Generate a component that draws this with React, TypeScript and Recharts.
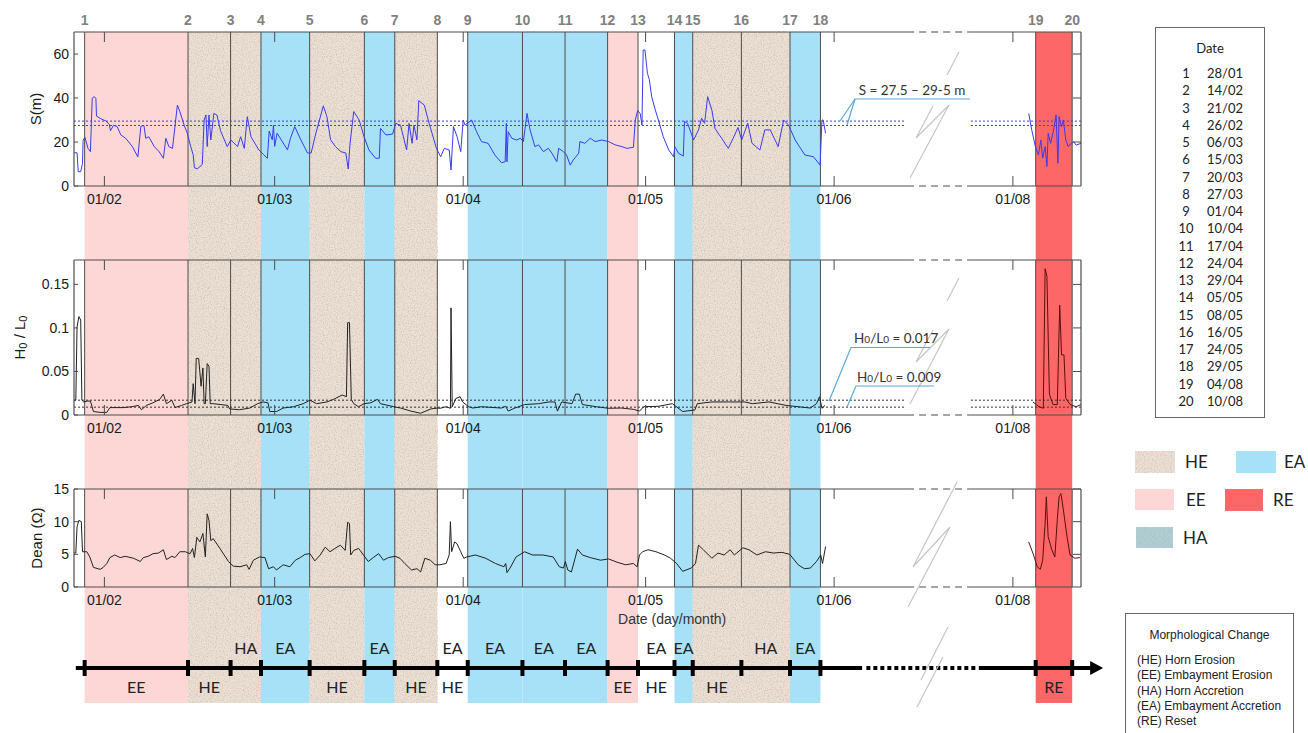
import React from "react";
import {
  ComposedChart,
  LineChart,
  Line,
  XAxis,
  YAxis,
  Label,
  ReferenceArea,
  ReferenceLine,
  ReferenceDot,
  Scatter,
} from "recharts";

// ---------- time axis (day of year, with a break between June and August) ----------
const CUM_DAYS = [0, 31, 59, 90, 120, 151, 181, 212];
const BREAK_SHIFT = 31.6; // days hidden by the axis break
const EVENT_HOUR = 0.75;
const X_DOMAIN: [number, number] = [27, 192.6];
const GAP: [number, number] = [164, 174.4];
const DOTS: [number, number] = [163.6, 174.5];

const doy = (ddmm: string) => {
  const [d, m] = ddmm.split("/").map(Number);
  return CUM_DAYS[m - 1] + d;
};
const toAxis = (day: number) => (day > 180 ? day - BREAK_SHIFT : day);

const EVENT_DATES = [
  "28/01", "14/02", "21/02", "26/02", "06/03", "15/03", "20/03", "27/03", "01/04", "10/04",
  "17/04", "24/04", "29/04", "05/05", "08/05", "16/05", "24/05", "29/05", "04/08", "10/08",
];
const MONTH_LABELS = ["01/02", "01/03", "01/04", "01/05", "01/06", "01/08"];

const EVENTS = EVENT_DATES.map((s) => toAxis(doy(s) + EVENT_HOUR));
const MONTH_TICKS = MONTH_LABELS.map((s) => toAxis(doy(s)));

type Band = "EE" | "HE" | "EA" | "RE" | "";
const PHASES: { from: number; to: number; above: string; below: string; band: Band }[] = [
  { from: 1, to: 2, above: "", below: "EE", band: "EE" },
  { from: 2, to: 3, above: "", below: "HE", band: "HE" },
  { from: 3, to: 4, above: "HA", below: "", band: "HE" },
  { from: 4, to: 5, above: "EA", below: "", band: "EA" },
  { from: 5, to: 6, above: "", below: "HE", band: "HE" },
  { from: 6, to: 7, above: "EA", below: "", band: "EA" },
  { from: 7, to: 8, above: "", below: "HE", band: "HE" },
  { from: 8, to: 9, above: "EA", below: "HE", band: "" },
  { from: 9, to: 10, above: "EA", below: "", band: "EA" },
  { from: 10, to: 11, above: "EA", below: "", band: "EA" },
  { from: 11, to: 12, above: "EA", below: "", band: "EA" },
  { from: 12, to: 13, above: "", below: "EE", band: "EE" },
  { from: 13, to: 14, above: "EA", below: "HE", band: "" },
  { from: 14, to: 15, above: "EA", below: "", band: "EA" },
  { from: 15, to: 16, above: "", below: "HE", band: "HE" },
  { from: 16, to: 17, above: "HA", below: "", band: "HE" },
  { from: 17, to: 18, above: "EA", below: "", band: "EA" },
  { from: 19, to: 20, above: "", below: "RE", band: "RE" },
];

// ---------- measured series: [day of year, value] ----------
const S_SPRING: [number, number][] = [
  [27.0, 15.1], [27.5, 15.1], [27.7, 6.5], [28.1, 6.5], [28.4, 10.3], [28.5, 20.9], [28.8, 22.1],
  [29.3, 17.1], [29.7, 15.6], [30.0, 39.9], [30.3, 40.6], [30.6, 39.9], [30.7, 31.8], [31.4, 30.6],
  [32.2, 29.6], [32.8, 28.1], [33.0, 25.1], [33.5, 27.6], [34.1, 27.0], [34.7, 23.2], [35.5, 21.7],
  [36.6, 17.9], [37.5, 13.2], [38.0, 27.2], [38.5, 27.5], [38.8, 21.7], [39.3, 22.4], [40.2, 17.9],
  [41.0, 15.6], [41.7, 12.6], [42.1, 21.7], [42.6, 17.9], [43.2, 17.1], [44.0, 36.8], [44.4, 33.9],
  [45.1, 27.8], [45.6, 24.2], [46.2, 17.9], [46.6, 14.2], [46.8, 8.3], [47.3, 7.8], [48.1, 9.8],
  [48.4, 30.0], [48.7, 32.3], [48.9, 17.9], [49.2, 32.3], [49.5, 20.9], [50.0, 33.0], [50.5, 32.3],
  [51.1, 25.1], [52.2, 17.9], [52.8, 20.9], [53.9, 17.9], [54.4, 22.4], [55.0, 17.1], [55.5, 31.5],
  [56.1, 22.4], [57.4, 16.4], [58.2, 14.2], [58.8, 12.6], [59.1, 25.0], [59.6, 21.0], [59.8, 27.6],
  [60.0, 18.0], [60.4, 24.0], [61.3, 20.0], [62.1, 16.4], [62.6, 21.7], [63.3, 27.0], [64.3, 21.0],
  [65.4, 15.0], [66.0, 15.0], [66.7, 23.2], [68.0, 36.4], [68.6, 31.5], [69.2, 21.0], [70.0, 17.9],
  [70.9, 15.6], [71.7, 15.0], [72.1, 7.7], [72.4, 19.4], [73.0, 33.8], [73.9, 30.0], [74.7, 22.4],
  [75.5, 16.4], [76.6, 12.6], [77.2, 12.6], [77.4, 26.2], [78.3, 23.2], [79.4, 23.6], [79.9, 28.5],
  [80.7, 27.6], [81.7, 16.4], [82.1, 28.5], [82.6, 19.4], [82.9, 27.6], [83.4, 21.0], [83.7, 38.8],
  [84.6, 36.8], [85.4, 28.5], [86.6, 17.1], [87.3, 13.3], [87.9, 17.1], [88.7, 16.4], [89.0, 7.3],
  [89.4, 27.0], [90.0, 22.4], [90.6, 15.6], [91.0, 30.0], [91.3, 27.7], [92.4, 30.0], [93.2, 24.7],
  [94.0, 20.2], [95.1, 19.4], [96.2, 14.1], [97.3, 10.6], [97.9, 11.0], [98.1, 28.5], [98.2, 11.0],
  [98.4, 24.7], [99.0, 21.7], [99.8, 20.9], [100.4, 21.7], [100.9, 20.2], [101.5, 33.0], [102.0, 25.5],
  [102.8, 17.9], [103.4, 18.7], [104.2, 15.6], [105.0, 17.1], [105.6, 14.9], [106.4, 11.0], [106.7, 17.1],
  [107.5, 15.6], [108.0, 14.1], [108.6, 9.5], [109.1, 11.8], [110.0, 14.9], [110.2, 20.2], [111.0, 19.4],
  [111.9, 21.7], [112.7, 20.2], [113.8, 20.9], [114.9, 20.2], [116.0, 18.7], [117.1, 17.9], [117.9, 17.1],
  [119.0, 17.6], [119.3, 30.0], [119.7, 34.3], [120.1, 33.0], [120.4, 27.7], [120.6, 61.8], [120.9, 61.8],
  [121.3, 51.2], [121.6, 48.5], [122.0, 40.6], [122.6, 34.5], [123.1, 30.0], [123.9, 22.4], [124.8, 16.4],
  [125.6, 13.3], [125.8, 17.9], [126.4, 14.9], [127.2, 13.6], [127.4, 29.3], [127.9, 28.5], [128.9, 20.9],
  [129.7, 25.5], [130.2, 30.8], [130.7, 28.5], [131.2, 40.6], [131.9, 34.5], [132.4, 26.2], [133.5, 21.7],
  [134.6, 17.1], [135.4, 21.7], [136.2, 26.6], [136.8, 20.9], [137.8, 28.5], [138.5, 19.4], [139.8, 16.4],
  [140.6, 25.5], [141.5, 25.5], [142.8, 17.9], [143.7, 30.0], [144.5, 27.7], [145.6, 20.9], [146.1, 18.7],
  [147.2, 14.1], [148.6, 13.3], [149.7, 9.5], [150.0, 30.0], [150.2, 30.0], [150.6, 24.0],
];
const S_AUGUST: [number, number][] = [
  [215.6, 33.0], [216.1, 25.5], [216.7, 17.9], [217.2, 14.1], [217.6, 20.9], [217.9, 12.7],
  [218.3, 17.9], [218.6, 8.8], [218.8, 24.0], [219.2, 19.4], [219.7, 25.5], [220.1, 32.3],
  [220.4, 10.3], [220.6, 31.5], [221.0, 27.0], [221.3, 30.0], [221.7, 20.9], [222.1, 17.9],
  [222.6, 19.4], [223.0, 20.1], [223.4, 18.6], [224.2, 19.4],
];

const H_SPRING: [number, number][] = [
  [27.0, 0.017], [27.3, 0.017], [27.5, 0.101], [27.8, 0.113], [28.1, 0.109], [28.3, 0.017],
  [28.6, 0.015], [29.2, 0.016], [29.7, 0.016], [30.2, 0.004], [31.3, 0.003], [32.4, 0.003],
  [32.9, 0.0085], [35.1, 0.0085], [36.5, 0.0095], [37.6, 0.011], [38.1, 0.006], [38.9, 0.011],
  [40.0, 0.014], [41.1, 0.018], [41.7, 0.024], [42.2, 0.013], [43.1, 0.017], [43.6, 0.0085],
  [44.7, 0.011], [45.5, 0.013], [46.4, 0.015], [46.6, 0.036], [46.9, 0.013], [47.1, 0.065],
  [47.5, 0.065], [47.9, 0.033], [48.2, 0.054], [48.4, 0.013], [48.6, 0.013], [48.9, 0.059],
  [49.2, 0.056], [49.4, 0.013], [49.9, 0.013], [52.3, 0.011], [52.6, 0.007], [54.2, 0.006],
  [55.9, 0.008], [57.2, 0.013], [58.1, 0.015], [58.9, 0.014], [59.2, 0.004], [60.3, 0.004],
  [61.4, 0.008], [63.1, 0.0095], [64.7, 0.013], [65.8, 0.017], [66.9, 0.013], [68.6, 0.015],
  [69.7, 0.018], [71.1, 0.023], [71.8, 0.021], [72.0, 0.106], [72.3, 0.106], [72.6, 0.018],
  [73.0, 0.013], [73.8, 0.0095], [74.7, 0.013], [75.8, 0.014], [76.9, 0.018], [77.4, 0.013],
  [79.6, 0.0095], [80.7, 0.008], [82.4, 0.0045], [84.0, 0.002], [85.7, 0.007], [86.8, 0.008],
  [87.2, 0.0077], [88.2, 0.0095], [88.9, 0.0077], [89.0, 0.123], [89.2, 0.0095], [89.8, 0.019],
  [90.5, 0.021], [90.9, 0.015], [91.9, 0.0095], [92.6, 0.008], [94.0, 0.0095], [97.3, 0.008],
  [98.0, 0.01], [98.4, 0.0045], [99.4, 0.0077], [101.1, 0.012], [103.4, 0.013], [105.1, 0.015],
  [106.1, 0.015], [106.5, 0.0045], [107.2, 0.015], [108.9, 0.013], [109.5, 0.024], [110.1, 0.024],
  [110.6, 0.012], [112.9, 0.0095], [114.9, 0.0077], [117.0, 0.008], [119.0, 0.0065], [120.0, 0.0045],
  [120.7, 0.0095], [123.1, 0.01], [125.4, 0.013], [127.1, 0.004], [129.1, 0.0058], [129.5, 0.013],
  [131.9, 0.015], [134.6, 0.015], [137.3, 0.015], [138.6, 0.013], [141.3, 0.015], [144.1, 0.011],
  [146.1, 0.0095], [148.1, 0.008], [149.1, 0.013], [149.6, 0.021], [150.0, 0.0077], [150.5, 0.011],
];
const H_AUGUST: [number, number][] = [
  [216.3, 0.015], [217.3, 0.0095], [218.0, 0.0077], [218.3, 0.168], [218.6, 0.159], [219.0, 0.024],
  [219.6, 0.012], [220.3, 0.012], [220.7, 0.126], [221.0, 0.069], [221.4, 0.069], [221.7, 0.019],
  [222.4, 0.012], [223.4, 0.0095], [224.2, 0.012],
];

const DEAN_SPRING: [number, number][] = [
  [27.0, 5.2], [27.3, 5.2], [27.5, 9.2], [27.8, 10.2], [28.2, 10.0], [28.4, 5.4], [29.1, 5.4],
  [29.6, 4.6], [30.2, 3.0], [31.3, 2.7], [31.8, 3.0], [32.4, 3.6], [32.9, 4.5], [33.7, 4.9],
  [34.6, 4.5], [35.4, 4.7], [36.8, 4.4], [37.9, 3.9], [38.4, 4.5], [39.2, 4.7], [40.0, 5.1],
  [40.9, 5.2], [41.7, 5.7], [42.2, 4.2], [43.1, 4.7], [43.6, 4.5], [44.4, 5.4], [45.3, 5.4],
  [46.1, 5.1], [46.5, 5.9], [46.8, 4.5], [47.2, 7.6], [47.7, 6.9], [48.2, 8.2], [48.6, 4.6],
  [48.9, 11.2], [49.2, 10.2], [49.5, 7.1], [49.9, 7.4], [51.0, 5.9], [52.4, 3.9], [53.2, 3.2],
  [54.3, 3.1], [55.4, 3.4], [55.8, 2.7], [56.5, 4.1], [57.5, 4.6], [58.4, 4.5], [59.0, 2.8],
  [59.8, 3.1], [60.3, 2.6], [61.4, 3.4], [62.5, 3.1], [63.4, 4.1], [64.2, 4.5], [65.0, 5.0],
  [65.8, 5.1], [66.6, 4.0], [67.5, 4.9], [68.3, 6.1], [69.1, 5.4], [69.9, 5.9], [70.8, 6.4],
  [71.6, 5.6], [72.0, 9.9], [72.3, 9.7], [72.5, 4.9], [73.0, 5.6], [73.8, 5.9], [74.6, 4.9],
  [75.4, 3.9], [76.2, 4.5], [77.1, 5.1], [77.9, 4.1], [78.7, 4.5], [79.8, 4.7], [80.6, 4.4],
  [81.4, 3.6], [82.5, 2.6], [83.4, 2.8], [84.0, 2.3], [84.7, 4.4], [85.6, 4.1], [86.4, 3.4],
  [87.2, 3.4], [88.2, 3.6], [88.7, 4.9], [88.9, 10.0], [89.1, 5.4], [89.6, 6.9], [90.0, 6.6],
  [90.6, 5.4], [91.1, 4.4], [91.6, 4.6], [93.0, 4.9], [94.7, 4.4], [96.3, 3.6], [97.7, 3.1],
  [98.0, 3.6], [98.2, 2.2], [98.7, 2.9], [99.7, 4.6], [101.1, 5.4], [102.4, 4.9], [104.1, 4.9],
  [105.8, 4.6], [106.8, 3.1], [107.5, 2.9], [107.8, 3.9], [108.2, 2.6], [108.8, 2.3], [109.4, 4.4],
  [109.8, 5.8], [110.6, 4.9], [111.9, 4.5], [113.6, 4.1], [114.9, 4.3], [116.3, 3.8], [117.7, 3.4],
  [119.0, 3.6], [119.6, 3.1], [120.0, 4.9], [120.5, 5.4], [121.4, 5.7], [122.7, 5.4], [124.1, 4.9],
  [125.1, 4.4], [126.1, 3.6], [127.1, 2.4], [128.5, 2.9], [129.2, 3.6], [129.7, 6.4], [130.5, 5.7],
  [131.9, 4.4], [132.9, 5.2], [133.9, 4.9], [134.9, 5.7], [135.6, 4.9], [137.0, 6.0], [138.0, 5.7],
  [139.3, 4.9], [140.7, 5.4], [142.0, 5.2], [143.4, 5.3], [144.7, 5.0], [146.1, 3.4], [147.1, 2.8],
  [148.1, 2.9], [149.1, 3.9], [149.8, 4.9], [150.1, 3.6], [150.6, 6.2],
];
const DEAN_AUGUST: [number, number][] = [
  [215.6, 6.9], [216.4, 4.9], [217.0, 3.1], [217.5, 2.7], [217.9, 4.1], [218.3, 9.8], [218.5, 13.8],
  [218.8, 7.7], [219.4, 5.7], [219.9, 4.6], [220.3, 10.3], [220.6, 13.8], [220.9, 14.3], [221.3, 11.8],
  [221.9, 7.7], [222.4, 4.9], [223.2, 4.4], [224.0, 4.5],
];

const S_THRESHOLDS = [27.5, 29.5];
const H_THRESHOLDS = [0.009, 0.017];

// ---------- styling ----------
const AXIS_FONT = '"Liberation Sans", Arial, sans-serif';
const TEXT_FONT = 'Lato, "Open Sans", sans-serif';
const FRAME = "#4d4d4d";
const BAND_FILL: Record<string, string> = { EE: "#fdd6d6", HE: "#ede1d6", EA: "#a6e1f8", RE: "#fe6767" };
const PANEL_TOPS = [32, 260, 489];

const toPoints = (pairs: [number, number][]) => pairs.map(([d, v]) => ({ t: toAxis(d), v }));

const W = 1308;
const PLOT_MARGIN = { left: 14, right: 217 };

function heShape(p: any) {
  return (
    <g>
      <rect x={p.x} y={p.y} width={p.width} height={p.height} fill={BAND_FILL.HE} />
      <rect x={p.x} y={p.y} width={p.width} height={p.height} filter="url(#speckle-he)" />
    </g>
  );
}

function yTitle(dx: number, content: React.ReactNode) {
  return (props: any) => {
    const vb = props.viewBox || { x: 14, y: 0, height: 0 };
    const cx = vb.x + dx;
    const cy = vb.y + vb.height / 2;
    return (
      <text x={cx} y={cy} transform={`rotate(-90 ${cx} ${cy})`} textAnchor="middle" dominantBaseline="central"
        fontSize={15} fill="#1a1a1a" fontFamily={AXIS_FONT}>
        {content}
      </text>
    );
  };
}

function axes(id: string, yDomain: [number, number], yTicks: number[], rTicks: number[], bottomH: number,
  title: any, xTitle?: any) {
  return [
    <XAxis key={`${id}-xb`} type="number" dataKey="t" domain={X_DOMAIN} allowDataOverflow ticks={MONTH_TICKS}
      interval={0} tickFormatter={(_v: number, i: number) => MONTH_LABELS[i]} height={bottomH} axisLine={false}
      tickSize={-10} tickMargin={18} tickLine={{ stroke: FRAME }}
      tick={{ fontSize: 14, fill: "#1a1a1a", fontFamily: AXIS_FONT }}>
      {xTitle}
    </XAxis>,
    <YAxis key={`${id}-yl`} type="number" domain={yDomain} allowDataOverflow ticks={yTicks} interval={0} width={60}
      tickSize={-4} tickMargin={9} axisLine={{ stroke: FRAME, strokeWidth: 1.2 }} tickLine={{ stroke: FRAME }}
      tick={{ fontSize: 14, fill: "#1a1a1a", fontFamily: AXIS_FONT }}>
      <Label content={title} />
    </YAxis>,
    <YAxis key={`${id}-yr`} yAxisId="r" orientation="right" type="number" domain={yDomain} allowDataOverflow
      ticks={rTicks} interval={0} width={10} tickSize={-8} tickFormatter={() => ""}
      axisLine={{ stroke: FRAME, strokeWidth: 1.2 }} tickLine={{ stroke: FRAME }} />,
  ];
}

function frame(id: string, yMax: number) {
  const parts: [number, number, boolean][] = [
    [X_DOMAIN[0], GAP[0], false],
    [GAP[0], GAP[1], true],
    [GAP[1], X_DOMAIN[1], false],
  ];
  return [
    ...EVENTS.map((x, i) => <ReferenceLine key={`${id}-ev${i}`} x={x} stroke={FRAME} ifOverflow="visible" />),
    ...[0, yMax].flatMap((y) =>
      parts.map(([a, b, dashed], i) => (
        <ReferenceLine key={`${id}-fr${y}-${i}`} segment={[{ x: a, y }, { x: b, y }]} stroke={FRAME}
          strokeWidth={1.2} strokeDasharray={dashed ? "7 5" : undefined} ifOverflow="visible" />
      ))
    ),
  ];
}

function thresholds(id: string, values: number[], color: string) {
  return values.flatMap((v) =>
    [[X_DOMAIN[0], DOTS[0]], [DOTS[1], X_DOMAIN[1]]].map(([a, b], i) => (
      <ReferenceLine key={`${id}-th${v}-${i}`} segment={[{ x: a, y: v }, { x: b, y: v }]} stroke={color}
        strokeDasharray="2 2" ifOverflow="visible" />
    ))
  );
}

const LABEL_POINTS = PHASES.flatMap((p) => {
  const mid = (EVENTS[p.from - 1] + EVENTS[p.to - 1]) / 2;
  const out: { x: number; y: number; text: string }[] = [];
  if (p.above) out.push({ x: mid, y: 654, text: p.above });
  if (p.below) out.push({ x: mid, y: 693, text: p.below });
  return out;
});

const EVENT_NUMBERS = EVENTS.map((x, i) => ({ x, y: 25, text: String(i + 1) }));

const labelShape = (p: any) => (
  <text x={p.cx} y={p.cy} textAnchor="middle" fontSize={16} fill="#222" fontFamily={TEXT_FONT}>
    {p.payload.text}
  </text>
);

const numberShape = (p: any) => (
  <text x={p.cx} y={p.cy} textAnchor="middle" fontSize={14} fontWeight={700} fill="#808080" fontFamily={AXIS_FONT}>
    {p.payload.text}
  </text>
);

const arrowHead = (p: any) => (
  <polygon points={`${p.cx},${p.cy - 7} ${p.cx + 13},${p.cy} ${p.cx},${p.cy + 7}`} fill="#000" />
);

const BREAK_MARKS = [
  "959,52 947,75",
  "933,106 916,138 949,105 910,178",
  "959,278 947,301",
  "933,330 916,362 949,329 910,404",
  "957,482 913,567 950,527 908,607",
  "948,627 921,680",
  "943,657 917,707",
];

const LEGEND = [
  { key: "HE", x: 1135, y: 451, w: 40, h: 22, tx: 1185, fill: BAND_FILL.HE, filter: "speckle-he" },
  { key: "EA", x: 1236, y: 451, w: 40, h: 22, tx: 1284, fill: BAND_FILL.EA, filter: "" },
  { key: "EE", x: 1135, y: 489, w: 39, h: 21, tx: 1186, fill: BAND_FILL.EE, filter: "" },
  { key: "RE", x: 1225, y: 489, w: 38, h: 22, tx: 1273, fill: BAND_FILL.RE, filter: "" },
  { key: "HA", x: 1136, y: 527, w: 37, h: 21, tx: 1183, fill: "#b2cfd3", filter: "speckle-ha" },
];

const MORPH_LINES = [
  "(HE) Horn Erosion",
  "(EE) Embayment Erosion",
  "(HA) Horn Accretion",
  "(EA) Embayment Accretion",
  "(RE) Reset",
];

const abs = (left: number, top: number): React.CSSProperties => ({ position: "absolute", left, top });

export default function App() {
  return (
    <div style={{ position: "absolute", left: 0, top: 0, width: W, height: 733, overflow: "hidden", background: "#fff" }}>
      <svg width={0} height={0} style={{ position: "absolute" }}>
        <defs>
          <filter id="speckle-he" x="0" y="0" width="1" height="1">
            <feTurbulence type="fractalNoise" baseFrequency="0.85" numOctaves="2" seed="4" />
            <feColorMatrix type="matrix" values="0 0 0 0 0.6  0 0 0 0 0.49  0 0 0 0 0.41  1.8 0 0 0 -0.75" />
          </filter>
          <filter id="speckle-ha" x="0" y="0" width="1" height="1">
            <feTurbulence type="fractalNoise" baseFrequency="0.85" numOctaves="2" seed="7" />
            <feColorMatrix type="matrix" values="0 0 0 0 0.35  0 0 0 0 0.5  0 0 0 0 0.53  1.8 0 0 0 -0.75" />
          </filter>
        </defs>
      </svg>

      {/* phase bands, event numbers and the time line underneath */}
      <div style={abs(0, 0)}>
        <ComposedChart width={W} height={733} margin={{ top: 0, right: 227, bottom: 0, left: 74 }}>
          <XAxis hide type="number" dataKey="x" domain={X_DOMAIN} allowDataOverflow />
          <YAxis hide type="number" dataKey="y" domain={[0, 733]} reversed allowDataOverflow />
          {PHASES.filter((p) => p.band).map((p, i) => (
            <ReferenceArea key={`band${i}`} x1={EVENTS[p.from - 1]} x2={EVENTS[p.to - 1]} y1={32} y2={703}
              fill={BAND_FILL[p.band]} fillOpacity={1} stroke="none" ifOverflow="visible"
              shape={p.band === "HE" ? heShape : undefined} />
          ))}
          {PANEL_TOPS.flatMap((top) =>
            MONTH_TICKS.map((x, i) => (
              <ReferenceLine key={`mt${top}-${i}`} segment={[{ x, y: top }, { x, y: top + 10 }]} stroke={FRAME}
                ifOverflow="visible" />
            ))
          )}
          <ReferenceLine segment={[{ x: 27.3, y: 668 }, { x: 156.6, y: 668 }]} stroke="#000" strokeWidth={4} ifOverflow="visible" />
          <ReferenceLine segment={[{ x: 157.3, y: 668 }, { x: 175.7, y: 668 }]} stroke="#000" strokeWidth={4}
            strokeDasharray="4 3" ifOverflow="visible" />
          <ReferenceLine segment={[{ x: 175.8, y: 668 }, { x: 194.2, y: 668 }]} stroke="#000" strokeWidth={4} ifOverflow="visible" />
          {EVENTS.map((x, i) => (
            <ReferenceLine key={`tl${i}`} segment={[{ x, y: 660 }, { x, y: 676 }]} stroke="#000" strokeWidth={4} ifOverflow="visible" />
          ))}
          <ReferenceDot x={194.1} y={668} r={1} shape={arrowHead} ifOverflow="visible" />
          <Scatter data={LABEL_POINTS} shape={labelShape} isAnimationActive={false} />
          <Scatter data={EVENT_NUMBERS} shape={numberShape} isAnimationActive={false} />
        </ComposedChart>
      </div>

      {/* S(m) */}
      <div style={abs(0, 0)}>
        <LineChart width={W} height={215} margin={{ top: 32, bottom: 0, ...PLOT_MARGIN }}>
          {axes("s", [0, 70], [0, 20, 40, 60], [20, 40, 60], 29, yTitle(21.5, "S(m)"))}
          {frame("s", 70)}
          {thresholds("s", S_THRESHOLDS, "#3b3bef")}
          <Line data={toPoints(S_SPRING)} dataKey="v" type="linear" stroke="#3b3bef" strokeWidth={1} dot={false} isAnimationActive={false} />
          <Line data={toPoints(S_AUGUST)} dataKey="v" type="linear" stroke="#3b3bef" strokeWidth={1} dot={false} isAnimationActive={false} />
        </LineChart>
      </div>

      {/* H0 / L0 */}
      <div style={abs(0, 240)}>
        <LineChart width={W} height={205} margin={{ top: 20, bottom: 0, ...PLOT_MARGIN }}>
          {axes("h", [0, 0.178], [0, 0.05, 0.1, 0.15], [0.05, 0.1, 0.15], 30,
            yTitle(5, [
              <tspan key="a">H</tspan>,
              <tspan key="b" fontSize={11} dy={4}>0</tspan>,
              <tspan key="c" dy={-4}> / L</tspan>,
              <tspan key="d" fontSize={11} dy={4}>0</tspan>,
            ]))}
          {frame("h", 0.178)}
          {thresholds("h", H_THRESHOLDS, "#333")}
          <Line data={toPoints(H_SPRING)} dataKey="v" type="linear" stroke="#222" strokeWidth={1} dot={false} isAnimationActive={false} />
          <Line data={toPoints(H_AUGUST)} dataKey="v" type="linear" stroke="#5a1010" strokeWidth={1} dot={false} isAnimationActive={false} />
        </LineChart>
      </div>

      {/* Dean number */}
      <div style={abs(0, 470)}>
        <LineChart width={W} height={177} margin={{ top: 19, bottom: 0, ...PLOT_MARGIN }}>
          {axes("d", [0, 15], [0, 5, 10, 15], [5, 10, 15], 60, yTitle(22, "Dean (Ω)"),
            <Label content={(props: any) => {
              const vb = props.viewBox || { x: 74, y: 587, width: 1007 };
              return (
                <text x={vb.x + vb.width * 0.594} y={vb.y + 37} textAnchor="middle" fontSize={14} fill="#333"
                  fontFamily={AXIS_FONT}>
                  Date (day/month)
                </text>
              );
            }} />)}
          {frame("d", 15)}
          <Line data={toPoints(DEAN_SPRING)} dataKey="v" type="linear" stroke="#222" strokeWidth={1} dot={false} isAnimationActive={false} />
          <Line data={toPoints(DEAN_AUGUST)} dataKey="v" type="linear" stroke="#5a1010" strokeWidth={1} dot={false} isAnimationActive={false} />
        </LineChart>
      </div>

      {/* axis-break marks and threshold call-outs */}
      <svg width={W} height={733} style={{ ...abs(0, 0), pointerEvents: "none" }}>
        {BREAK_MARKS.map((pts, i) => (
          <polyline key={i} points={pts} fill="none" stroke="#c6c6c6" strokeWidth={1.2} />
        ))}
        <g fill="none" stroke="#5aa9dd" strokeWidth={1.2}>
          <polyline points="840,121 855,99 970,99" />
          <polyline points="855,99 847,125" />
          <polyline points="829,401 851,347.5 930,347.5" />
          <polyline points="847,407 856,386 934,386" />
        </g>
        <g fontFamily={TEXT_FONT} fontSize={13.5} fill="#333">
          <text x={912} y={95} textAnchor="middle">S = 27.5 – 29-5 m</text>
          <text x={854} y={343}>
            H<tspan fontSize={10}>0</tspan>/L<tspan fontSize={10}>0</tspan> = 0.017
          </text>
          <text x={857} y={382}>
            H<tspan fontSize={10}>0</tspan>/L<tspan fontSize={10}>0</tspan> = 0.009
          </text>
        </g>
      </svg>

      {/* Date key */}
      <div style={{ ...abs(1155, 27), width: 110, height: 391, border: "1px solid #666", boxSizing: "border-box",
        fontFamily: TEXT_FONT, fontSize: 13, color: "#222" }}>
        <div style={{ ...abs(0, 12), width: 108, textAlign: "center", lineHeight: "16px" }}>Date</div>
        {EVENT_DATES.map((d, i) => (
          <div key={d} style={{ ...abs(0, 37 + i * 17.26), width: 108, lineHeight: "16px" }}>
            <span style={{ ...abs(15, 0), width: 30, textAlign: "center" }}>{i + 1}</span>
            <span style={{ ...abs(49, 0), width: 40, textAlign: "center" }}>{d}</span>
          </div>
        ))}
      </div>

      {/* phase colour legend */}
      {LEGEND.map((l) => (
        <React.Fragment key={l.key}>
          <svg width={l.w} height={l.h} style={abs(l.x, l.y)}>
            <rect width={l.w} height={l.h} fill={l.fill} />
            {l.filter && <rect width={l.w} height={l.h} filter={`url(#${l.filter})`} />}
          </svg>
          <div style={{ ...abs(l.tx, l.y + l.h / 2 - 11), fontFamily: TEXT_FONT, fontSize: 17, lineHeight: "22px", color: "#222" }}>
            {l.key}
          </div>
        </React.Fragment>
      ))}

      {/* morphological change key */}
      <div style={{ ...abs(1125, 613), width: 169, height: 140, border: "1px solid #666", boxSizing: "border-box",
        fontFamily: AXIS_FONT, fontSize: 12, color: "#222" }}>
        <div style={{ ...abs(0, 14), width: 167, textAlign: "center", lineHeight: "15px" }}>Morphological Change</div>
        {MORPH_LINES.map((t, i) => (
          <div key={t} style={{ ...abs(11, 39 + i * 15.3), lineHeight: "15px", whiteSpace: "nowrap" }}>{t}</div>
        ))}
      </div>
    </div>
  );
}
